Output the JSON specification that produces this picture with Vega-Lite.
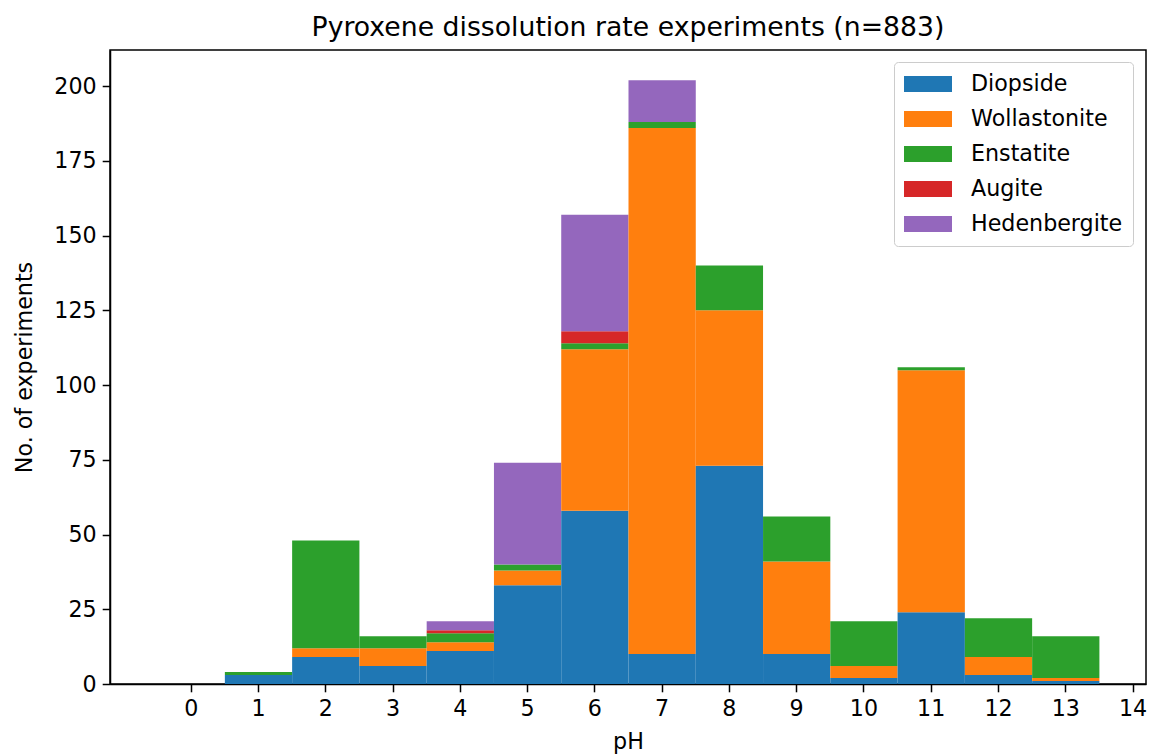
{
  "$schema": "https://vega.github.io/schema/vega-lite/v6.json",
  "autosize": "none",
  "width": 1036,
  "height": 634,
  "padding": {"left": 110, "top": 50, "right": 5, "bottom": 70},
  "title": {"text": "Pyroxene dissolution rate experiments (n=883)", "font": "DejaVu Sans", "fontSize": 26.7, "fontWeight": "normal", "color": "black", "offset": 8},
  "data": {"values": [
    {"lo": 0.5, "hi": 1.5, "mineral": "Diopside", "i": 0, "n": 3},
    {"lo": 0.5, "hi": 1.5, "mineral": "Enstatite", "i": 2, "n": 1},
    {"lo": 1.5, "hi": 2.5, "mineral": "Diopside", "i": 0, "n": 9},
    {"lo": 1.5, "hi": 2.5, "mineral": "Wollastonite", "i": 1, "n": 3},
    {"lo": 1.5, "hi": 2.5, "mineral": "Enstatite", "i": 2, "n": 36},
    {"lo": 2.5, "hi": 3.5, "mineral": "Diopside", "i": 0, "n": 6},
    {"lo": 2.5, "hi": 3.5, "mineral": "Wollastonite", "i": 1, "n": 6},
    {"lo": 2.5, "hi": 3.5, "mineral": "Enstatite", "i": 2, "n": 4},
    {"lo": 3.5, "hi": 4.5, "mineral": "Diopside", "i": 0, "n": 11},
    {"lo": 3.5, "hi": 4.5, "mineral": "Wollastonite", "i": 1, "n": 3},
    {"lo": 3.5, "hi": 4.5, "mineral": "Enstatite", "i": 2, "n": 3},
    {"lo": 3.5, "hi": 4.5, "mineral": "Augite", "i": 3, "n": 1},
    {"lo": 3.5, "hi": 4.5, "mineral": "Hedenbergite", "i": 4, "n": 3},
    {"lo": 4.5, "hi": 5.5, "mineral": "Diopside", "i": 0, "n": 33},
    {"lo": 4.5, "hi": 5.5, "mineral": "Wollastonite", "i": 1, "n": 5},
    {"lo": 4.5, "hi": 5.5, "mineral": "Enstatite", "i": 2, "n": 2},
    {"lo": 4.5, "hi": 5.5, "mineral": "Hedenbergite", "i": 4, "n": 34},
    {"lo": 5.5, "hi": 6.5, "mineral": "Diopside", "i": 0, "n": 58},
    {"lo": 5.5, "hi": 6.5, "mineral": "Wollastonite", "i": 1, "n": 54},
    {"lo": 5.5, "hi": 6.5, "mineral": "Enstatite", "i": 2, "n": 2},
    {"lo": 5.5, "hi": 6.5, "mineral": "Augite", "i": 3, "n": 4},
    {"lo": 5.5, "hi": 6.5, "mineral": "Hedenbergite", "i": 4, "n": 39},
    {"lo": 6.5, "hi": 7.5, "mineral": "Diopside", "i": 0, "n": 10},
    {"lo": 6.5, "hi": 7.5, "mineral": "Wollastonite", "i": 1, "n": 176},
    {"lo": 6.5, "hi": 7.5, "mineral": "Enstatite", "i": 2, "n": 2},
    {"lo": 6.5, "hi": 7.5, "mineral": "Hedenbergite", "i": 4, "n": 14},
    {"lo": 7.5, "hi": 8.5, "mineral": "Diopside", "i": 0, "n": 73},
    {"lo": 7.5, "hi": 8.5, "mineral": "Wollastonite", "i": 1, "n": 52},
    {"lo": 7.5, "hi": 8.5, "mineral": "Enstatite", "i": 2, "n": 15},
    {"lo": 8.5, "hi": 9.5, "mineral": "Diopside", "i": 0, "n": 10},
    {"lo": 8.5, "hi": 9.5, "mineral": "Wollastonite", "i": 1, "n": 31},
    {"lo": 8.5, "hi": 9.5, "mineral": "Enstatite", "i": 2, "n": 15},
    {"lo": 9.5, "hi": 10.5, "mineral": "Diopside", "i": 0, "n": 2},
    {"lo": 9.5, "hi": 10.5, "mineral": "Wollastonite", "i": 1, "n": 4},
    {"lo": 9.5, "hi": 10.5, "mineral": "Enstatite", "i": 2, "n": 15},
    {"lo": 10.5, "hi": 11.5, "mineral": "Diopside", "i": 0, "n": 24},
    {"lo": 10.5, "hi": 11.5, "mineral": "Wollastonite", "i": 1, "n": 81},
    {"lo": 10.5, "hi": 11.5, "mineral": "Enstatite", "i": 2, "n": 1},
    {"lo": 11.5, "hi": 12.5, "mineral": "Diopside", "i": 0, "n": 3},
    {"lo": 11.5, "hi": 12.5, "mineral": "Wollastonite", "i": 1, "n": 6},
    {"lo": 11.5, "hi": 12.5, "mineral": "Enstatite", "i": 2, "n": 13},
    {"lo": 12.5, "hi": 13.5, "mineral": "Diopside", "i": 0, "n": 1},
    {"lo": 12.5, "hi": 13.5, "mineral": "Wollastonite", "i": 1, "n": 1},
    {"lo": 12.5, "hi": 13.5, "mineral": "Enstatite", "i": 2, "n": 14}
  ]},
  "mark": {"type": "bar", "cornerRadius": 0, "binSpacing": 0},
  "encoding": {
    "x": {"field": "lo", "type": "quantitative", "bin": "binned",
      "scale": {"domain": [-1.2, 14.2], "nice": false, "zero": false},
      "axis": {"values": [0,1,2,3,4,5,6,7,8,9,10,11,12,13,14], "title": "pH", "format": "d", "grid": false}},
    "x2": {"field": "hi"},
    "y": {"field": "n", "type": "quantitative", "stack": "zero",
      "scale": {"domain": [0, 212.1], "nice": false},
      "axis": {"values": [0,25,50,75,100,125,150,175,200], "title": "No. of experiments", "grid": false}},
    "color": {"field": "mineral", "type": "nominal",
      "scale": {"domain": ["Diopside", "Wollastonite", "Enstatite", "Augite", "Hedenbergite"],
        "range": ["#1f77b4", "#ff7f0e", "#2ca02c", "#d62728", "#9467bd"]},
      "legend": {"title": null, "orient": "none", "legendX": 784, "legendY": 12,
        "symbolType": "M-2,-0.667L2,-0.667L2,0.667L-2,0.667Z", "symbolSize": 576,
        "symbolStrokeWidth": 0, "symbolOpacity": 1, "symbolOffset": 12,
        "labelFont": "DejaVu Sans", "labelFontSize": 22.2, "labelColor": "black", "labelOffset": 31,
        "rowPadding": 11, "padding": 10, "fillColor": "white", "strokeColor": "#cccccc", "cornerRadius": 4}},
    "order": {"field": "i", "type": "quantitative"}
  },
  "config": {
    "view": {"stroke": "black", "strokeWidth": 1.5},
    "axis": {"domainColor": "black", "domainWidth": 1.5, "tickColor": "black", "tickWidth": 1.5, "tickSize": 7.8, "labelFont": "DejaVu Sans", "labelFontSize": 22.2, "labelColor": "black", "titleFont": "DejaVu Sans", "titleFontSize": 22.2, "titleFontWeight": "normal", "titleColor": "black", "labelPadding": 6},
    "axisY": {"titlePadding": 17},
    "axisX": {"titlePadding": 10, "labelFlush": false, "labelOverlap": false}
  }
}
